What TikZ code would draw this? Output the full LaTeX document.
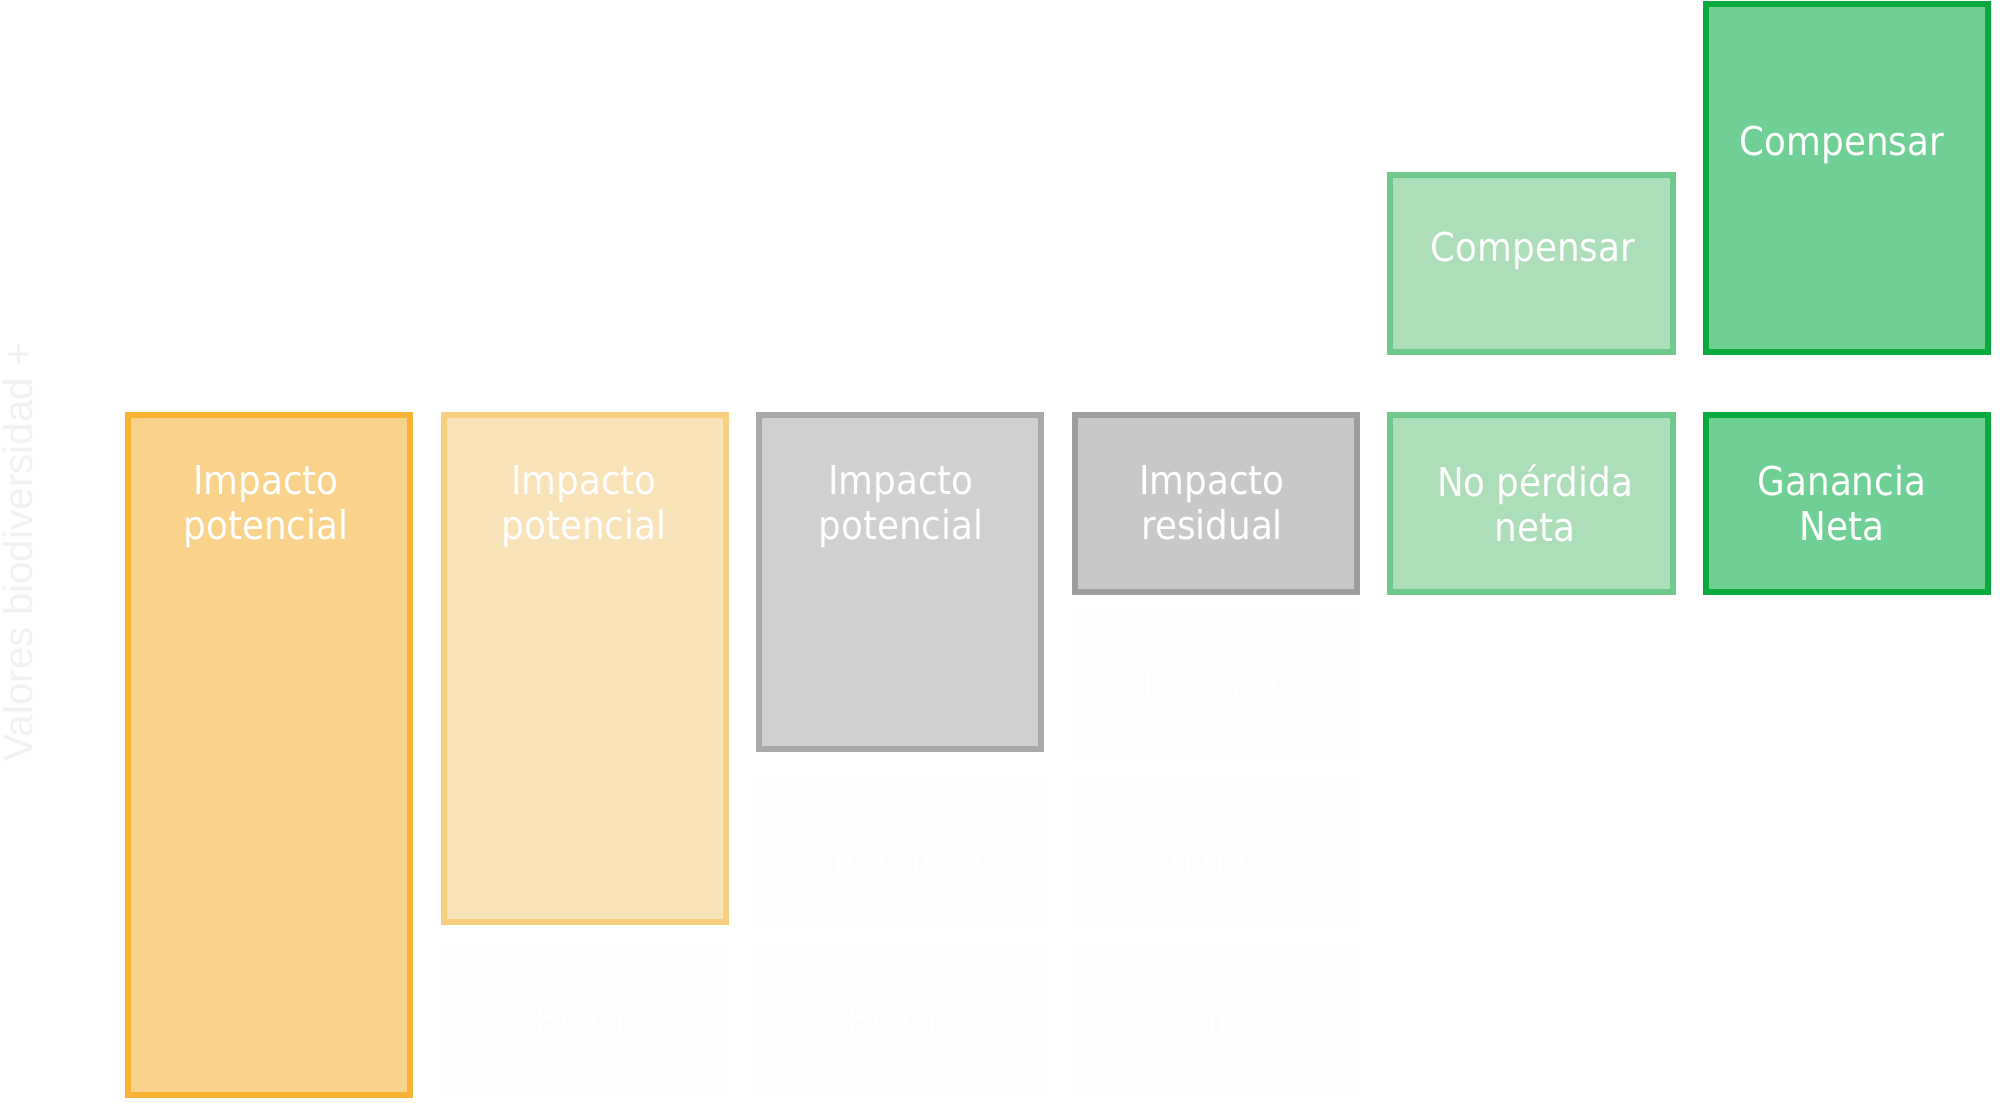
\documentclass[tikz,border=0pt]{standalone}
\usepackage{fontspec}
\setmainfont{DejaVu Sans Condensed}
\newfontfamily\axisfont{Liberation Sans}
\definecolor{oAfill}{HTML}{F9D28C}
\definecolor{oAdraw}{HTML}{F9B234}
\definecolor{oBfill}{HTML}{F9E3B8}
\definecolor{oBdraw}{HTML}{F8CE7F}
\definecolor{gAfill}{HTML}{D0D0D0}
\definecolor{gAdraw}{HTML}{A9A9A9}
\definecolor{gBfill}{HTML}{C8C8C8}
\definecolor{gBdraw}{HTML}{9E9E9E}
\definecolor{vAfill}{HTML}{ACDEB9}
\definecolor{vAdraw}{HTML}{6DC98C}
\definecolor{vBfill}{HTML}{6FCF94}
\definecolor{vBdraw}{HTML}{0BAA3E}
\definecolor{fFill}{HTML}{FDFDFD}
\definecolor{fDraw}{HTML}{FEFEFE}
\definecolor{axisc}{HTML}{F1F1F1}
\begin{document}
\begin{tikzpicture}[x=0.01cm,y=-0.01cm,
  box/.style={rectangle, line width=0.06cm, minimum width=2.82cm, inner sep=0pt},
  faint/.style={rectangle, fill=fFill, draw=fDraw, line width=0.04cm, minimum width=2.80cm, minimum height=1.38cm, inner sep=0pt},
  txt/.style={text=white, align=center, font=\fontsize{11.3pt}{12.76pt}\selectfont, inner sep=0pt}]
\useasboundingbox (0,0) rectangle (2000,1110);
% main boxes (bottom row)
\node[box, fill=oAfill, draw=oAdraw, minimum height=6.79cm] (b1) at (269,755) {};
\node[box, fill=oBfill, draw=oBdraw, minimum height=5.065cm] (b2) at (584.6,668.75) {};
\node[box, fill=gAfill, draw=gAdraw, minimum height=3.335cm] (b3) at (900.2,582.25) {};
\node[box, fill=gBfill, draw=gBdraw, minimum height=1.765cm] (b4) at (1215.8,503.75) {};
\node[box, fill=vAfill, draw=vAdraw, minimum height=1.765cm] (b5) at (1531.4,503.75) {};
\node[box, fill=vBfill, draw=vBdraw, minimum height=1.765cm] (b6) at (1847,503.75) {};
% upper boxes
\node[box, fill=vAfill, draw=vAdraw, minimum height=1.765cm] (u5) at (1531.4,263.25) {};
\node[box, fill=vBfill, draw=vBdraw, minimum height=3.475cm] (u6) at (1847,177.75) {};
% faint boxes
\node[faint] (e2) at (584.6,1022) {};
\node[faint] (m3) at (900.2,853) {};
\node[faint] (e3) at (900.2,1022) {};
\node[faint] (r4) at (1215.8,686) {};
\node[faint] (m4) at (1215.8,853) {};
\node[faint] (e4) at (1215.8,1022) {};
% texts
\node[txt] (t1) at (266,507) {Impacto\vphantom{Ip}\\potencial\vphantom{Ip}};
\node[txt] (t2) at (584,507) {Impacto\vphantom{Ip}\\potencial\vphantom{Ip}};
\node[txt] (t3) at (901,507) {Impacto\vphantom{Ip}\\potencial\vphantom{Ip}};
\node[txt] (t4) at (1212,507) {Impacto\vphantom{Ip}\\residual\vphantom{Ip}};
\node[txt] (t5) at (1535,507) {No pérdida\vphantom{Ip}\\neta\vphantom{Ip}};
\node[txt] (t6) at (1842,507) {Ganancia\vphantom{Ip}\\Neta\vphantom{Ip}};
\node[txt] (tu5) at (1533,251) {Compensar};
\node[txt] (tu6) at (1842,145) {Compensar};
\node[txt] (te2) at (588,1019) {Evitar};
\node[txt] (tm3) at (900,857) {Minimizar};
\node[txt] (te3) at (900,1019) {Evitar};
\node[txt] (tr4) at (1213,686) {Reparar};
\node[txt] (tm4) at (1216,857) {Minimizar};
\node[txt] (te4) at (1216,1019) {Evitar};
% axis label
\node[rotate=90, text=axisc, font=\axisfont\fontsize{11.5pt}{12pt}\selectfont, inner sep=0pt] (ax) at (18,552) {Valores biodiversidad +};
\end{tikzpicture}
\end{document}
